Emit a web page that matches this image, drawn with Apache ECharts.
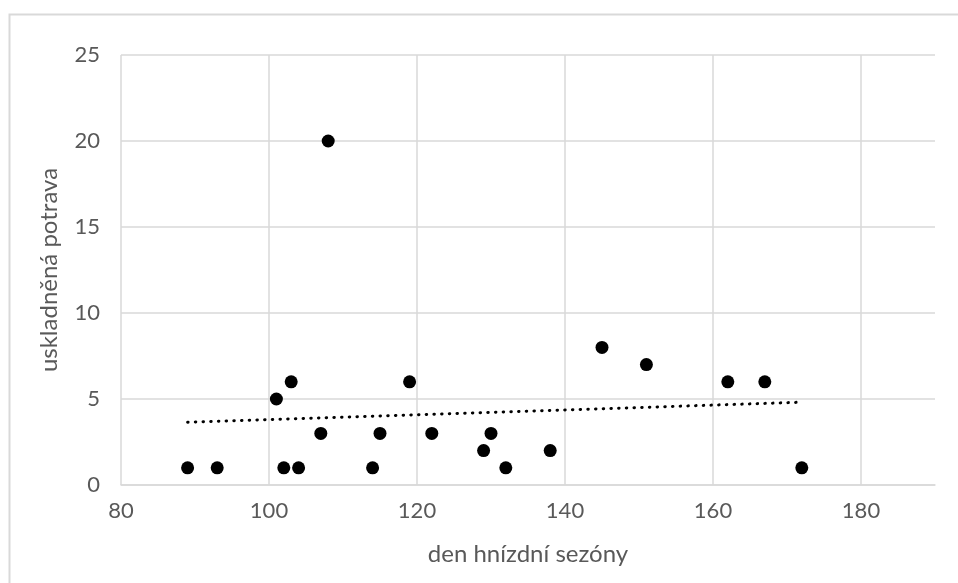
<!DOCTYPE html>
<html>
<head>
<meta charset="utf-8">
<script src="https://cdn.jsdelivr.net/npm/echarts@6/dist/echarts.min.js"></script>
<style>
  html, body { margin: 0; padding: 0; background: #fff; }
  #chart { width: 958px; height: 583px; }
</style>
</head>
<body>
<div id="chart"></div>
<script>
// Day of nesting season vs. amount of stored food
const dayOfSeason = [89, 93, 101, 102, 103, 104, 107, 108, 114, 115, 119, 122, 129, 130, 132, 138, 145, 151, 162, 167, 172];
const storedFood  = [1, 1, 5, 1, 6, 1, 3, 20, 1, 3, 6, 3, 2, 3, 1, 2, 8, 7, 6, 6, 1];

const xTitle = 'den hnízdní sezóny';
const yTitle = 'uskladněná potrava';

// Least-squares linear trend over the observed range
function linearTrend(xs, ys) {
  const n = xs.length;
  let sx = 0, sy = 0, sxx = 0, sxy = 0;
  for (let i = 0; i < n; i++) {
    sx += xs[i]; sy += ys[i];
    sxx += xs[i] * xs[i]; sxy += xs[i] * ys[i];
  }
  const slope = (n * sxy - sx * sy) / (n * sxx - sx * sx);
  const intercept = (sy - slope * sx) / n;
  const x0 = Math.min(...xs), x1 = Math.max(...xs);
  return [[x0, intercept + slope * x0], [x1, intercept + slope * x1]];
}

const points = dayOfSeason.map((d, i) => [d, storedFood[i]]);
const trend = linearTrend(dayOfSeason, storedFood);

const FONT = 'Lato';
const TEXT = '#595959';
const GRID_LINE = '#d9d9d9';

const chart = echarts.init(document.getElementById('chart'), null, { renderer: 'canvas' });
chart.setOption({
  animation: false,
  backgroundColor: '#ffffff',
  textStyle: { fontFamily: FONT },
  grid: { left: 121, top: 55, right: 23, bottom: 98, containLabel: false },
  xAxis: {
    type: 'value',
    min: 80, max: 190, interval: 20,
    name: xTitle,
    nameLocation: 'middle',
    nameGap: 57,
    nameTextStyle: { fontFamily: FONT, fontSize: 24, color: TEXT },
    axisLine: { show: true, lineStyle: { color: GRID_LINE, width: 1.5 } },
    axisTick: { show: false },
    axisLabel: { fontFamily: FONT, fontSize: 22, color: TEXT, margin: 15, showMaxLabel: false },
    splitLine: { show: true, showMaxLine: false, lineStyle: { color: GRID_LINE, width: 1.5 } }
  },
  yAxis: {
    type: 'value',
    min: 0, max: 25, interval: 5,
    axisLine: { show: false },
    axisTick: { show: false },
    axisLabel: { fontFamily: FONT, fontSize: 22, color: TEXT, margin: 21 },
    splitLine: { show: true, lineStyle: { color: GRID_LINE, width: 1.5 } }
  },
  graphic: [
    {
      type: 'rect',
      left: 7, top: 12,
      shape: { width: 970, height: 600 },
      style: { fill: 'none', stroke: GRID_LINE, lineWidth: 2 },
      silent: true
    },
    {
      type: 'text',
      x: 49, y: 270,
      rotation: Math.PI / 2,
      style: {
        text: yTitle,
        font: '24px ' + FONT,
        fill: TEXT,
        align: 'center',
        verticalAlign: 'middle'
      },
      silent: true
    }
  ],
  series: [
    {
      type: 'line',
      data: trend,
      showSymbol: false,
      symbol: 'none',
      lineStyle: { color: '#000', width: 3, type: [0.5, 7.2], cap: 'round' },
      z: 2,
      silent: true
    },
    {
      type: 'scatter',
      data: points,
      symbol: 'circle',
      symbolSize: 13,
      itemStyle: { color: '#000', opacity: 1 },
      z: 3
    }
  ]
});
</script>
</body>
</html>
